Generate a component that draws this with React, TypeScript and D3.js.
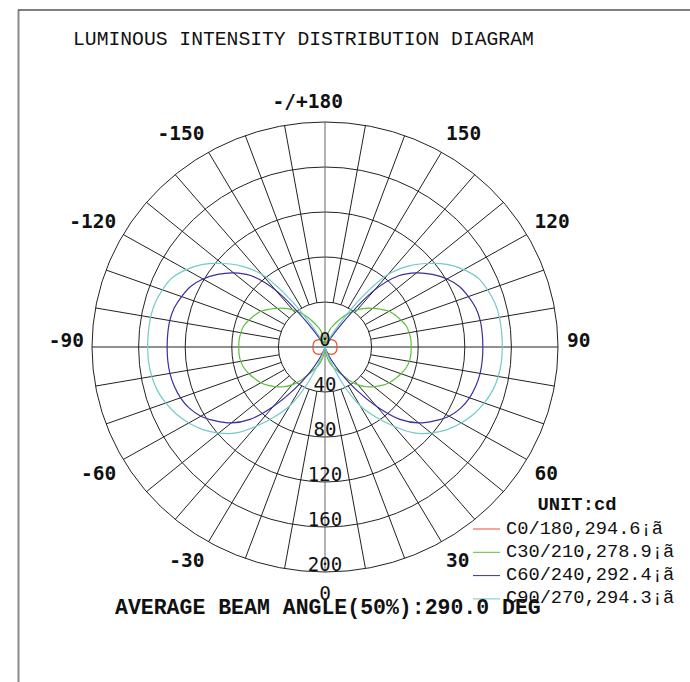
import React from "react";
import * as d3 from "d3";

// gamma angles (deg) 0..180 step 5
const gammas = d3.range(0, 181, 5);

// intensity values (cd) per C-plane, gamma 0..180
const c0Values = [0, 1.2, 2.5, 3.8, 5, 6, 7, 7.8, 8.5, 9, 9.5, 9.9, 10.2, 10.3, 10.4, 10.4, 10.4, 10.3, 10.3,
  10.3, 10.4, 10.4, 10.4, 10.3, 10.2, 9.9, 9.5, 9, 8.5, 7.8, 7, 6, 5, 3.8, 2.5, 1.2, 0];
const c30Values = [0, 3, 8, 13, 18, 22, 28, 36, 44, 50, 55, 59.5, 63.5, 66.5, 69.5, 72, 73.5, 74, 74,
  74, 73.3, 72.3, 69.5, 66.7, 63.5, 58.5, 53.5, 48.5, 43, 37, 31, 25, 20, 16, 10, 4, 0];
const c60Values = [0, 0, 0, 1, 4, 12, 26, 46, 69, 91, 105, 114.5, 123, 128.5, 132, 134, 135.2, 135.5, 135.5,
  135.5, 135.3, 134, 131, 127.3, 121, 112.5, 102.5, 89.5, 66, 26, 6, 1, 0, 0, 0, 0, 0];
const c90Values = [0, 0, 1, 3, 12, 36, 60, 76, 92, 108, 119, 128, 135, 141, 145.5, 149, 151, 152, 152.2,
  152.2, 152, 151, 148.5, 145, 137.5, 128, 115.5, 102, 84, 50, 18, 5, 1, 0, 0, 0, 0];

const seriesNames = ["C0/180,294.6¡ã", "C30/210,278.9¡ã", "C60/240,292.4¡ã", "C90/270,294.3¡ã"];
const seriesColors = ["#f04a2a", "#5cbf3a", "#3a2e9c", "#72caca"];
const seriesValues = [c0Values, c30Values, c60Values, c90Values];

const ringValues = [40, 80, 120, 160, 200];
const ringLabels = ["0", "40", "80", "120", "160", "200"];
const angleLabels = [0, 30, 60, 90, 120, 150, 180, -30, -60, -90, -120, -150];

const titleText = "LUMINOUS INTENSITY DISTRIBUTION DIAGRAM";
const unitText = "UNIT:cd";
const beamText = "AVERAGE BEAM ANGLE(50%):290.0 DEG";

const W = 690, H = 682;
const CX = 325, CY = 347;
const rX = d3.scaleLinear().domain([0, 200]).range([0, 233]);
const rY = d3.scaleLinear().domain([0, 200]).range([0, 225]);
const rad = (deg: number) => (deg * Math.PI) / 180;

function pt(I: number, g: number, side: number): [number, number] {
  return [CX + side * rX(I) * Math.sin(rad(g)), CY + rY(I) * Math.cos(rad(g))];
}

function curvePath(vals: number[]) {
  const pts: [number, number][] = [];
  gammas.forEach((g, i) => pts.push(pt(vals[i], g, 1)));
  for (let i = gammas.length - 2; i >= 1; i--) pts.push(pt(vals[i], gammas[i], -1));
  const clean: [number, number][] = [];
  pts.forEach((p) => {
    const last = clean[clean.length - 1];
    if (!last || Math.hypot(p[0] - last[0], p[1] - last[1]) > 0.3) clean.push(p);
  });
  return d3.line().curve(d3.curveCatmullRomClosed.alpha(0.5))(clean) || "";
}

export default function App() {
  const spokeDirs = d3.range(0, 360, 10);
  const mono = "'Liberation Mono', 'Courier New', monospace";
  const dv = "'DejaVu Sans Mono', monospace";
  return (
    <svg width={W} height={H} style={{ position: "absolute", left: 0, top: 0, background: "#fff" }}>
      <rect x={0} y={0} width={W} height={H} fill="#fff" />
      {/* frame */}
      <line x1={18.5} y1={10} x2={18.5} y2={H} stroke="#8a8a8a" strokeWidth={2} />
      <line x1={18} y1={10} x2={W} y2={10} stroke="#555" strokeWidth={1.6} />
      <text x={73} y={45} fontFamily={mono} fontSize={19.7} fill="#111">{titleText}</text>

      {/* rings */}
      {ringValues.map((v) => (
        <ellipse key={v} cx={CX} cy={CY} rx={rX(v)} ry={rY(v)} fill="none" stroke="#222" strokeWidth={1} />
      ))}
      {/* spokes */}
      {spokeDirs.map((a) => {
        const axis = a % 90 === 0;
        const r0 = axis ? 0 : 40;
        const [x1, y1] = pt(r0, a, 1);
        const [x2, y2] = pt(200, a, 1);
        return <line key={a} x1={x1} y1={y1} x2={x2} y2={y2} stroke={a % 180 === 0 ? "#666" : "#222"} strokeWidth={1} />;
      })}

      {/* curves */}
      {seriesValues.map((vals, i) => (
        <path key={i} d={curvePath(vals)} fill="none" stroke={seriesColors[i]} strokeWidth={1.2} />
      ))}

      {/* ring labels */}
      {ringLabels.map((t, i) => (
        <text key={t} x={CX} y={CY + rY(i * 40) - 1} textAnchor="middle" fontFamily={dv} fontSize={19} fill="#111">{t}</text>
      ))}

      {/* angle labels */}
      {angleLabels.map((a) => {
        const g = Math.abs(a);
        const s = Math.sin(rad(g)), c = Math.cos(rad(g));
        let x: number, anchor: string, text: string;
        if (g === 0) { x = CX; anchor = "middle"; text = "0"; }
        else if (g === 180) { x = CX + 18; anchor = "end"; text = "-/+180"; }
        else if (a > 0) { x = CX + 242 * s; anchor = "start"; text = String(a); }
        else { x = CX - 241 * s; anchor = "end"; text = String(a); }
        const y = CY + 239 * c + (c > 0.01 ? 13.5 : 0);
        return (
          <text key={a} x={x} y={y} textAnchor={anchor} fontFamily={dv} fontSize={19.5}
            fontWeight={g === 0 ? "normal" : "bold"} fill="#111">{text}</text>
        );
      })}

      {/* legend */}
      <text x={577} y={510} textAnchor="middle" fontFamily={mono} fontWeight="bold" fontSize={18.8} fill="#111">{unitText}</text>
      {seriesNames.map((n, i) => (
        <g key={n}>
          <line x1={473} x2={500} y1={529 + i * 23.3} y2={529 + i * 23.3} stroke={seriesColors[i]} strokeWidth={1} />
          <text x={506} y={533.5 + i * 23.3} fontFamily={mono} fontSize={18.7} fill="#111">{n}</text>
        </g>
      ))}
      <text x={115} y={614} fontFamily={mono} fontWeight="bold" fontSize={21.5} fill="#111">{beamText}</text>
    </svg>
  );
}
